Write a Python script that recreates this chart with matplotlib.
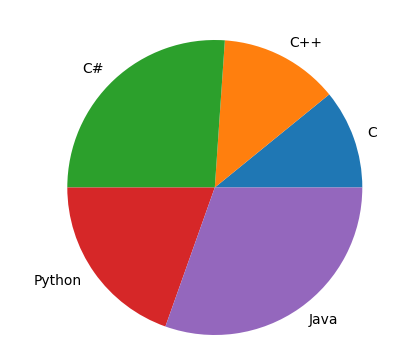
import matplotlib
matplotlib.use("Agg")
import matplotlib.pyplot as plt

languages = ['C', 'C++', 'C#', 'Python', 'Java']
popularity = [5, 6, 12, 9, 14]

W, H = 414, 363
fig = plt.figure(figsize=(W / 100, H / 100), dpi=100)

# pie centre (px) and radius, axes spans +-1.25 data units
cx, cy, r = 214.8, 187.5, 147.5
half = r * 1.25
ax = fig.add_axes([(cx - half) / W, (H - cy - half) / H, 2 * half / W, 2 * half / H])
ax.pie(popularity, labels=languages)

fig.savefig('out.png', dpi=100)
